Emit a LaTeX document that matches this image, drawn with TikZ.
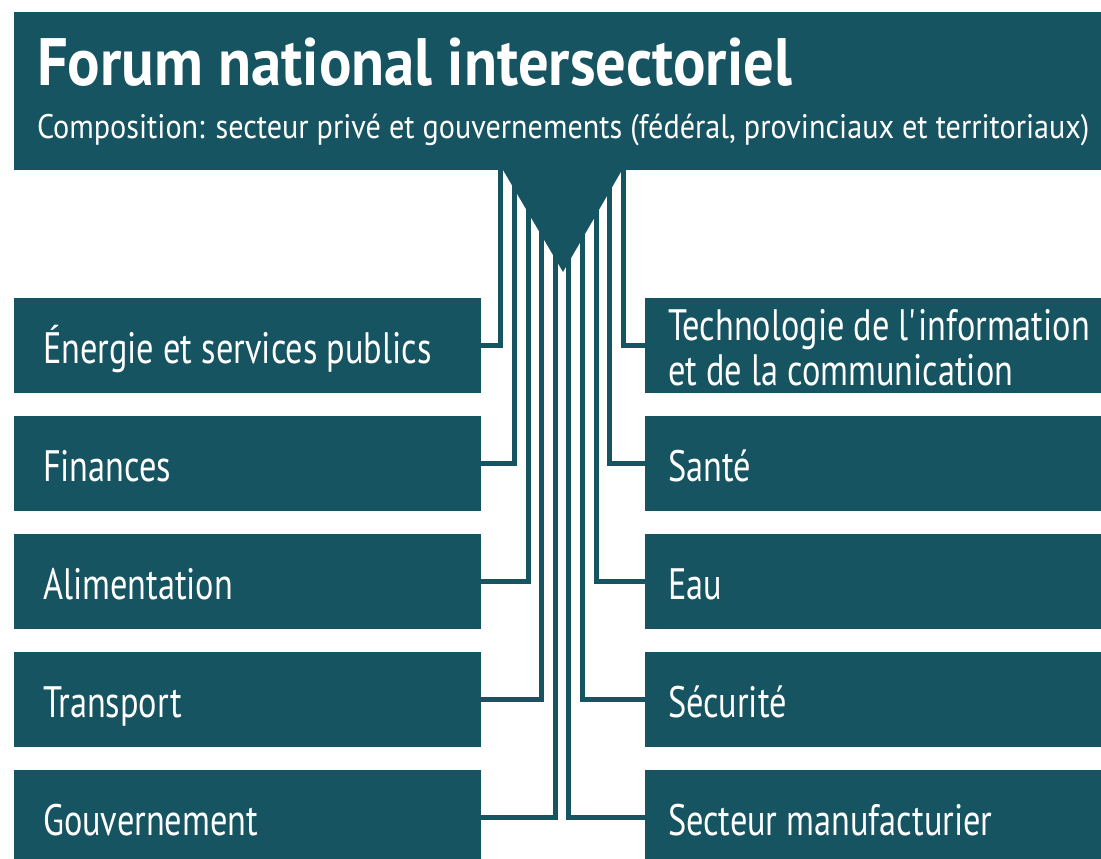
\documentclass[tikz,border=0pt]{standalone}
\usepackage{fontspec}
\setmainfont{PT Sans}[FakeStretch=0.78]
\newfontfamily\forumfont{PT Sans}[FakeStretch=0.905]
\newfontfamily\compfont{PT Sans}[FakeStretch=0.888]
\usepackage{tikz}
\definecolor{forumteal}{RGB}{23,84,97}

\begin{document}
\begin{tikzpicture}[x=1pt,y=1pt]

\tikzstyle{header} = [fill=forumteal, minimum width=1087pt, minimum height=158pt, inner sep=0pt]
\tikzstyle{headtext} = [text=white, inner sep=0pt, anchor=base west]
\tikzstyle{leftbox} = [fill=forumteal, text=white, minimum width=467pt, minimum height=95pt, inner xsep=29pt, inner ysep=0pt, text width=409pt, align=flush left, text height=35pt, text depth=0pt, font=\fontsize{44}{45}\selectfont]
\tikzstyle{rightbox} = [leftbox, minimum width=456pt, inner xsep=23pt, text width=410pt]
\tikzstyle{link} = [draw=forumteal, line width=5pt]

\useasboundingbox (0,0) rectangle (1101,-859);

%Header: top

\path (557.5,-91) node (forum) [header] {};

\path (forum.west)+(23,6) node (forum_title) [headtext, font=\forumfont\bfseries\fontsize{67}{70}\selectfont] {Forum national intersectoriel};

\path (forum.west)+(23,-47) node (forum_sub) [headtext, font=\compfont\fontsize{34}{36}\selectfont] {Composition: secteur privé et gouvernements (fédéral, provinciaux et territoriaux)};

%Sectors: left column

\path (247.5,-345.5) node (energie) [leftbox] {Énergie et services publics};
\path (energie)+(0,-118) node (finances) [leftbox] {Finances};
\path (finances)+(0,-118) node (alimentation) [leftbox] {Alimentation};
\path (alimentation)+(0,-118) node (transport) [leftbox] {Transport};
\path (transport)+(0,-118) node (gouvernement) [leftbox] {Gouvernement};

%Sectors: right column

\path (energie)+(625.5,0) node (tic) [rightbox, text depth=45pt] {\mbox{Technologie de l\textquotesingle information}\\\mbox{et de la communication}};
\path (tic)+(0,-118) node (sante) [rightbox] {Santé};
\path (sante)+(0,-118) node (eau) [rightbox] {Eau};
\path (eau)+(0,-118) node (securite) [rightbox] {Sécurité};
\path (securite)+(0,-118) node (manufacturier) [rightbox] {Secteur manufacturier};

%Links

\coordinate (fan) at (562,-170);

\foreach \name [count=\i from 0] in {energie,finances,alimentation,transport,gouvernement}
  \draw [link] ([xshift={-61.5pt+13.75pt*\i}]fan) |- (\name.east);

\foreach \name [count=\i from 0] in {tic,sante,eau,securite,manufacturier}
  \draw [link] ([xshift={61.5pt-13.75pt*\i}]fan) |- (\name.west);

\fill [forumteal] (fan)+(-59,0) -- +(60,0) -- +(1,-102) -- cycle;

\end{tikzpicture}
\end{document}
